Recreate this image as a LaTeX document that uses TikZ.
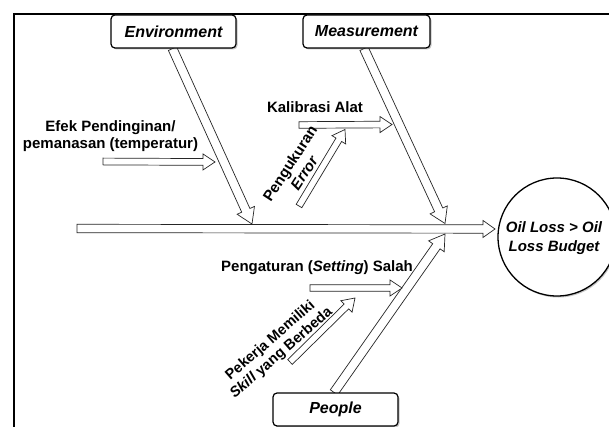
\documentclass[tikz,border=0pt]{standalone}
\usepackage{fontspec}
\setmainfont{Liberation Sans}
\usetikzlibrary{calc,shadows,backgrounds}
% block arrow: tail, tip, shaft half-width, head half-width, head length
\newcommand\blockarrow[5]{%
  \coordinate (hb) at ($(#2)!#5pt!(#1)$);
  \draw[blockarr] ($(#1)!#3pt!90:(#2)$) -- ($(hb)!#3pt!-90:(#1)$) -- ($(hb)!#4pt!-90:(#1)$) -- (#2)
     -- ($(hb)!#4pt!90:(#1)$) -- ($(hb)!#3pt!90:(#1)$) -- ($(#1)!#3pt!-90:(#2)$) -- cycle;}
\begin{document}
\begin{tikzpicture}[x=1pt,y=-1pt,
  blockarr/.style={draw=black!85, fill=white, line width=0.7pt, line join=miter},
  titlebox/.style={draw, line width=1.2pt, rounded corners=4pt, fill=white,
    minimum width=125pt, minimum height=33pt, inner sep=0pt,
    font=\fontsize{16}{19}\selectfont\bfseries\itshape,
    drop shadow={shadow xshift=1.5pt, shadow yshift=-1.5pt, fill=black!45}},
  effectnode/.style={draw, circle, line width=1.3pt, minimum size=118pt, fill=white,
    drop shadow={shadow xshift=1.2pt, shadow yshift=-1.5pt, fill=black!45}},
  lbl/.style={inner sep=0pt, align=center, font=\fontsize{15}{17}\selectfont\bfseries}]
\useasboundingbox (0,0) rectangle (609,427);
\clip (0,0) rectangle (609,427);
% frame
\draw[line width=2pt] (14,440) -- (14,14) -- (620,14);
% category boxes and effect
\node[titlebox] (env) at (173.5,31.5) {Environment};
\node[titlebox, minimum width=127pt] (meas) at (366.5,31.5) {Measurement};
\node[titlebox] (people) at (335.5,409.5) {People};
\node[effectnode] (effect) at (557,237) {};
\node[lbl, font=\fontsize{15}{19}\selectfont\bfseries\itshape] (effecttxt) at (554,238.5) {Oil Loss > Oil\\Loss Budget};
% cause labels
\node[lbl] (efek) at (110.5,136.5) {Efek Pendinginan/\\pemanasan (temperatur)};
\node[lbl] (kal) at (315,107) {Kalibrasi Alat};
\node[lbl, rotate=57] (peng) at (297,168) {Pengukuran\\\textit{Error}};
\node[lbl] (atur) at (317,268) {Pengaturan (\textit{Setting}) Salah};
\node[lbl, rotate=41, font=\fontsize{14.5}{16.5}\selectfont\bfseries] (pek) at (276,347) {Pekerja Memiliki\\\textit{Skill} yang Berbeda};
% arrow end points
\coordinate (spinetail) at (77,228.5);
\coordinate (spinetip) at (495,229);
\coordinate (envroot) at ([xshift=-1pt]env.south);
\coordinate (envtip) at (252,224);
\coordinate (measroot) at ([xshift=-2.5pt]meas.south);
\coordinate (meastip) at (445,223.5);
\coordinate (peoroot) at ([xshift=-1.5pt]people.north);
\coordinate (peotip) at (445,234);
\coordinate (efektail) at (103,161.5);
\coordinate (efektip) at (215,162);
\coordinate (kaltail) at (299,125);
\coordinate (kaltip) at (392,124.5);
\coordinate (pengtail) at (299,206);
\coordinate (pengtip) at (345,129.5);
\coordinate (aturtail) at (310,288);
\coordinate (aturtip) at (402,288);
\coordinate (pektail) at (290,362);
\coordinate (pektip) at (355,298);
\begin{pgfonlayer}{background}
  \fill[white] (0,0) rectangle (609,427);
  \blockarrow{spinetail}{spinetip}{4.2}{8.5}{12}
  \blockarrow{envroot}{envtip}{4.5}{9.5}{15}
  \blockarrow{measroot}{meastip}{4.5}{9.5}{15}
  \blockarrow{peoroot}{peotip}{4.5}{9.5}{15}
  \blockarrow{efektail}{efektip}{3.4}{8}{12}
  \blockarrow{kaltail}{kaltip}{3.3}{8}{12}
  \blockarrow{pengtail}{pengtip}{3.3}{8}{12}
  \blockarrow{aturtail}{aturtip}{3.3}{8}{12}
  \blockarrow{pektail}{pektip}{3.3}{8}{12}
\end{pgfonlayer}
\end{tikzpicture}
\end{document}
